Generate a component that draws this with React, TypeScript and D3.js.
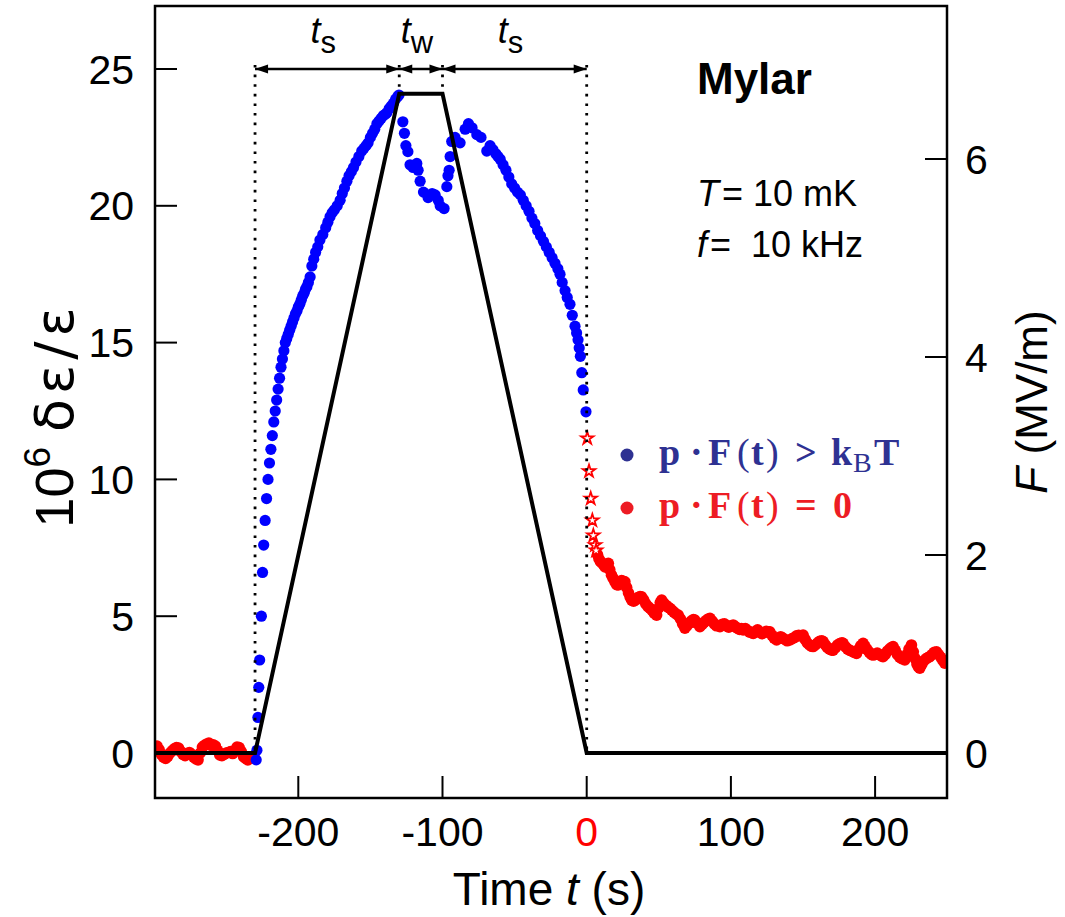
import React from "react";
import * as d3 from "d3";

// ---------- data ----------
// red baseline before the field is applied (t in s, 10^6 δε/ε)
const redBaseT = [-299.5,-298,-296.5,-295,-293.5,-292,-290.5,-289,-287.5,-286,-284.5,-283,-281.5,-280,-278.5,-277,-275.5,-274,-272.5,-271,-269.5,-268,-266.5,-265,-263.5,-262,-260.5,-259,-257.5,-256,-254.5,-253,-251.5,-250,-248.5,-247,-245.5,-244,-242.5,-241,-239.5,-238,-236.5,-235,-233.5,-232,-230.8];
const redBaseV = [0.15,0.25,0.12,-0.05,-0.15,-0.2,-0.12,0.0,0.08,0.15,0.2,0.18,0.05,-0.05,-0.1,-0.02,0.02,-0.05,-0.15,-0.22,-0.25,0.0,0.22,0.28,0.33,0.36,0.28,0.3,0.25,0.1,-0.07,-0.1,-0.05,0.0,0.02,0.05,-0.02,0.1,0.22,0.2,0.05,-0.13,-0.2,-0.25,-0.2,-0.15,-0.1];

// blue points while field is on
const blueT = [-229.2,-228.7,-228,-227.4,-226.8,-225.6,-224.8,-224,-223,-222,-221,-220,-219,-218,-217,-216,-215,-214,-213,-212,-211,-210,-209,-208,-207,-206,-205,-204,-203,-202,-201,-200,-199,-198,-197,-196,-195,-194,-193,-191.8,-190.6,-189.3,-188,-186.5,-185,-183,-181,-179.5,-178,-176.5,-175,-173,-171,-169.5,-168,-166.3,-164.8,-163.2,-161.7,-160,-158,-156,-154.5,-153,-151.6,-150,-148.5,-147,-145.5,-144,-142.5,-141,-139.5,-138.6,-137,-135.5,-134,-132.5,-131,
  -130.2,-127.5,-126.4,-125.4,-124,-122.5,-120.4,-117.8,-116.9,-115.5,-113.2,-110,-107.2,-105.1,-103,-101.6,-98.9,-97,-96.2,-95.4,-94.7,-93.6,-91.3,-87.8,-84.3,-82,-79.5,-76.2,-73.3,-69.3,
  -67,-65,-63,-61.5,-60,-58,-56,-54,-52,-50,-48,-46,-44,-42,-40,-38,-36,-34,-32,-30,-28,-26,-24,-22,-20,-18.5,-17,-15,-13.5,-11.6,-10,-8.1,-7,-6,-5.2,-4.4,-3.4,-2.4,-0.5];
const blueV = [-0.25,0.1,1.3,2.4,3.4,5.0,6.6,7.6,8.5,9.3,10.0,10.6,11.1,11.6,12.1,12.5,12.9,13.3,13.7,14.1,14.4,14.7,15.0,15.15,15.3,15.45,15.6,15.75,15.9,16.05,16.15,16.3,16.4,16.55,16.7,16.8,16.95,17.05,17.2,17.4,17.8,18.05,18.3,18.5,18.75,18.95,19.2,19.4,19.6,19.75,19.85,20.0,20.2,20.45,20.65,20.9,21.1,21.25,21.4,21.6,21.8,22.0,22.1,22.2,22.3,22.5,22.65,22.8,23.0,23.1,23.2,23.3,23.35,23.4,23.55,23.65,23.75,23.9,24.0,
  24.05,23.07,22.65,22.2,21.98,21.5,21.4,21.55,21.3,20.9,20.5,20.3,20.45,20.4,20.2,20.0,19.9,20.7,21.1,21.3,21.8,22.35,22.5,22.3,22.8,23.0,22.85,22.6,22.5,22.0,
  22.2,22.05,21.9,21.8,21.7,21.5,21.3,21.05,20.8,20.65,20.5,20.4,20.2,20.0,19.8,19.55,19.35,19.1,18.9,18.7,18.5,18.3,18.1,17.9,17.7,17.5,17.2,16.9,16.65,16.4,16.0,15.6,15.35,15.1,14.8,14.5,13.9,13.27,12.47];

// red stars just after switch-off
const starT = [0.4,1.6,2.8,3.9,4.6,5.8,6.5];
const starV = [11.5,10.3,9.3,8.5,7.95,7.6,7.4];

// red decay after switch-off
const redDecayT = [7.5,8.5,9.5,10.5,11.5,12.7,14,15,16,17.2,18.4,19.6,20.8,21.9,23,24.2,25.4,26.5,27.7,29,30.1,31.2,32.5,34,35.5,37,38.1,39.5,41,42.5,43.9,45.5,47,48.5,50,51,52,53.5,55,56.5,57.7,59,60.5,62,63.5,65,66.5,68.1,69.5,71,72.5,74,75,76.5,78.5,80,81.5,83,84.3,85.5,87,88.5,90,92.4,94,95.5,97,98.5,100,101.6,103,104.5,106,107.3,108.5,110,111.5,113,114.3,115.5,117,118.5,120,121.5,123,124.5,126,127,128.5,130,131.7,133,134.5,136,137.5,139,140.9,142.5,144,145.5,147,148.5,150.1,151.5,153,154.5,156,157,158.5,160,161.5,163,164,165.5,167,168.5,170,170.9,172.5,174,175.5,177,177.8,179.5,181,182.5,184,185.5,187.1,188.5,190,191.7,193,194.5,196,197.5,198.6,200,201.5,203,204.3,205.5,207,208.5,210,211.3,212.5,214,215.5,217,218.5,220.6,222,223.5,225.2,226.5,227.8,229,230,231,232.5,234,235.5,237,237.9,239.5,241,242.6,244,245.5,247,248.3,249.5];
const redDecayV = [7.25,7.1,7.0,6.95,6.9,6.8,6.9,6.93,6.7,6.5,6.38,6.25,6.15,6.14,6.2,6.3,6.28,6.26,6.05,5.85,5.7,5.59,5.55,5.6,5.68,5.72,5.71,5.6,5.45,5.35,5.29,5.2,5.1,5.04,5.3,5.5,5.59,5.48,5.4,5.33,5.29,5.22,5.15,5.08,5.04,4.9,4.72,4.56,4.65,4.75,4.82,4.88,4.86,4.75,4.62,4.7,4.78,4.85,4.9,4.92,4.82,4.72,4.65,4.62,4.7,4.72,4.65,4.6,4.65,4.68,4.62,4.56,4.52,4.55,4.5,4.55,4.48,4.42,4.4,4.37,4.45,4.5,4.42,4.36,4.4,4.45,4.43,4.43,4.3,4.2,4.13,4.2,4.25,4.2,4.15,4.1,4.13,4.18,4.22,4.28,4.3,4.28,4.31,4.15,4.02,3.95,3.9,3.89,3.95,4.02,4.08,4.1,4.07,3.95,3.85,3.8,3.76,3.76,3.85,3.95,4.0,4.03,4.01,3.88,3.8,3.75,3.72,3.68,3.64,3.78,3.92,4.01,3.9,3.78,3.68,3.6,3.58,3.6,3.65,3.6,3.55,3.52,3.6,3.72,3.8,3.85,3.89,3.75,3.6,3.5,3.45,3.4,3.6,3.8,3.95,3.7,3.45,3.25,3.15,3.1,3.25,3.38,3.45,3.5,3.52,3.6,3.68,3.7,3.6,3.5,3.38,3.28,3.35];

// applied field F (MV/m) vs t
const fieldT = [-300, -230, -130, -100, 0, 250];
const fieldF = [0, 0, 6.66, 6.66, 0, 0];

// annotation boundaries (s)
const boundaries = [-230, -130, -100, 0];
const intervalLabels = [{ from: -230, to: -130, sub: "s" }, { from: -130, to: -100, sub: "w" }, { from: -100, to: 0, sub: "s" }];

// axis ticks
const xTicks = [-200, -100, 0, 100, 200];
const xTickLabels = ["-200", "-100", "0", "100", "200"];
const yLeftTicks = [0, 5, 10, 15, 20, 25];
const yRightTicks = [0, 2, 4, 6];

// ---------- layout ----------
const W = 1065, H = 917;
const L = 155, R = 947, T = 6, B = 798;
const SANS = "'Liberation Sans', Arial, Helvetica, sans-serif";
const SERIF = "'Liberation Serif', 'Times New Roman', serif";

export default function App() {
  const x = d3.scaleLinear().domain([-300, 250]).range([154.1, 947.2]);
  const yL = d3.scaleLinear().domain([0, 25]).range([753, 69]);
  const yR = d3.scaleLinear().domain([0, 6]).range([753, 159]);

  const fieldLine = d3.line<number>().x((_, i) => x(fieldT[i])).y((d) => yR(d));
  const star = d3.symbol().type(d3.symbolStar).size(48)();

  const arrowY = yL(25);
  const tickLen = 22;

  const arrowHead = (tipX: number, dir: number) => {
    const len = 13, hw = 4.5;
    return `M${tipX},${arrowY} L${tipX - dir * len},${arrowY - hw} L${tipX - dir * len},${arrowY + hw} Z`;
  };

  const plateauY = yR(fieldF[2]);

  return (
    <svg width={W} height={H} style={{ position: "absolute", left: 0, top: 0, background: "#fff" }}>
      <defs>
        <clipPath id="plotClip">
          <rect x={L} y={T} width={R - L} height={B - T} />
        </clipPath>
      </defs>
      <rect x={0} y={0} width={W} height={H} fill="#fff" />

      <g clipPath="url(#plotClip)">
        {redBaseT.map((t, i) => (
          <circle key={"rb" + i} cx={x(t)} cy={yL(redBaseV[i])} r={5.8} fill="#ff0000" />
        ))}
        {redDecayT.map((t, i) => (
          <circle key={"rd" + i} cx={x(t)} cy={yL(redDecayV[i])} r={5.8} fill="#ff0000" />
        ))}
        {blueT.map((t, i) => (
          <circle key={"b" + i} cx={x(t)} cy={yL(blueV[i])} r={5.6} fill="#0000ff" />
        ))}
        {starT.map((t, i) => (
          <path key={"s" + i} d={star} transform={`translate(${x(t)},${yL(starV[i])})`} fill="#fff" stroke="#ff0000" strokeWidth={1.8} />
        ))}
        <path d={fieldLine(fieldF) || ""} fill="none" stroke="#000" strokeWidth={4} strokeLinejoin="miter" />
      </g>

      {/* dotted boundary lines */}
      {boundaries.map((b, i) => {
        const outer = i === 0 || i === boundaries.length - 1;
        return (
          <line key={"d" + i} x1={x(b)} x2={x(b)} y1={arrowY - 4} y2={outer ? yL(0) : plateauY - 2}
            stroke="#000" strokeWidth={2.8} strokeDasharray="2.6 7" />
        );
      })}

      {/* interval arrows */}
      <line x1={x(-230)} x2={x(0)} y1={arrowY} y2={arrowY} stroke="#000" strokeWidth={2.5} />
      {intervalLabels.map((s, i) => (
        <g key={"a" + i}>
          <path d={arrowHead(x(s.from), -1)} fill="#000" />
          <path d={arrowHead(x(s.to), 1)} fill="#000" />
          <text x={(x(s.from) + x(s.to)) / 2 - 4} y={43} fontFamily={SANS} fontSize={36} textAnchor="middle">
            <tspan fontStyle="italic">t</tspan>
            <tspan dy={10} fontSize={31}>{s.sub}</tspan>
          </text>
        </g>
      ))}

      {/* frame */}
      <rect x={L} y={T} width={R - L} height={B - T} fill="none" stroke="#000" strokeWidth={2.5} />

      {/* left ticks */}
      {yLeftTicks.map((v) => (
        <g key={"yl" + v}>
          <line x1={L} x2={L + tickLen} y1={yL(v)} y2={yL(v)} stroke="#000" strokeWidth={2} />
          <text x={134} y={yL(v) + 14.5} fontFamily={SANS} fontSize={41} textAnchor="end">{v}</text>
        </g>
      ))}
      {/* right ticks */}
      {yRightTicks.map((v) => (
        <g key={"yr" + v}>
          <line x1={R - tickLen} x2={R} y1={yR(v)} y2={yR(v)} stroke="#000" strokeWidth={2} />
          <text x={965} y={yR(v) + 14.5} fontFamily={SANS} fontSize={41} textAnchor="start">{v}</text>
        </g>
      ))}
      {/* bottom ticks */}
      {xTicks.map((v, i) => (
        <g key={"xt" + v}>
          <line x1={x(v)} x2={x(v)} y1={B} y2={B - tickLen} stroke="#000" strokeWidth={2} />
          <text x={x(v)} y={846} fontFamily={SANS} fontSize={41} textAnchor="middle" fill={v === 0 ? "#ff0000" : "#000"}>{xTickLabels[i]}</text>
        </g>
      ))}

      {/* axis titles */}
      <text x={549} y={905} fontFamily={SANS} fontSize={46} textAnchor="middle" style={{ whiteSpace: "pre" }}>
        <tspan>Time </tspan><tspan fontStyle="italic">t</tspan><tspan> (s)</tspan>
      </text>
      <text transform="translate(73,415) rotate(-90)" fontFamily={SANS} fontSize={54} textAnchor="middle" style={{ whiteSpace: "pre" }}>
        <tspan>10</tspan><tspan fontSize={37} dy={-23}>6</tspan><tspan dy={23}> </tspan>
        <tspan fontFamily="'DejaVu Sans', sans-serif" letterSpacing={5}>δε/ε</tspan>
      </text>
      <text transform="translate(1047,402) rotate(-90)" fontFamily={SANS} fontSize={44} textAnchor="middle" style={{ whiteSpace: "pre" }}>
        <tspan fontStyle="italic">F</tspan><tspan> (MV/m)</tspan>
      </text>

      {/* annotations */}
      <text x={697} y={94} fontFamily={SANS} fontSize={44} fontWeight="bold">Mylar</text>
      <text x={697} y={206} fontFamily={SANS} fontSize={36} style={{ whiteSpace: "pre" }}>
        <tspan fontStyle="italic">T</tspan><tspan dx={3}>= 10 mK</tspan>
      </text>
      <text x={697} y={257} fontFamily={SANS} fontSize={36} style={{ whiteSpace: "pre" }}>
        <tspan fontStyle="italic">f</tspan><tspan dx={3}>=  10 kHz</tspan>
      </text>

      {/* legend */}
      <circle cx={627} cy={455} r={6.5} fill="#2e3192" />
      <text y={465} fontFamily={SERIF} fontSize={38} fontWeight="bold" fill="#2e3192">
        <tspan x={659}>p</tspan>
        <tspan x={690}>·</tspan>
        <tspan x={708}>F</tspan>
        <tspan x={737} fontWeight="normal">(</tspan>
        <tspan x={751}>t</tspan>
        <tspan x={766} fontWeight="normal">)</tspan>
        <tspan x={795}>&gt;</tspan>
        <tspan x={831}>k</tspan>
        <tspan x={853} dy={7} fontSize={28} fontWeight="normal">B</tspan>
        <tspan x={874} dy={-7}>T</tspan>
      </text>
      <circle cx={627} cy={508} r={6.5} fill="#ed1c24" />
      <text y={518} fontFamily={SERIF} fontSize={38} fontWeight="bold" fill="#ed1c24">
        <tspan x={659}>p</tspan>
        <tspan x={690}>·</tspan>
        <tspan x={708}>F</tspan>
        <tspan x={737} fontWeight="normal">(</tspan>
        <tspan x={751}>t</tspan>
        <tspan x={766} fontWeight="normal">)</tspan>
        <tspan x={795}>=</tspan>
        <tspan x={833}>0</tspan>
      </text>
    </svg>
  );
}
